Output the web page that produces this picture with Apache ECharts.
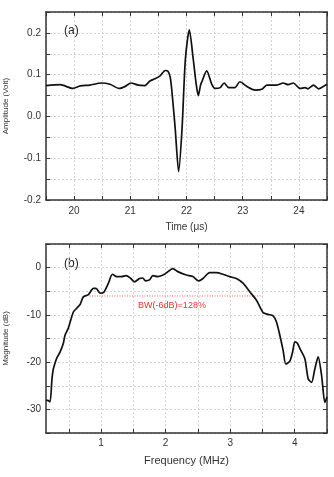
<!DOCTYPE html>
<html>
<head>
<meta charset="utf-8">
<script src="https://cdn.jsdelivr.net/npm/echarts@6/dist/echarts.min.js"></script>
<style>html,body{margin:0;padding:0;background:#fff;}#c{width:334px;height:477px;}</style>
</head>
<body>
<div id="c"></div>
<script>
var timeUs = [19.50,19.75,19.98,20.11,20.28,20.48,20.64,20.80,20.91,21.01,21.14,21.26,21.35,21.44,21.53,21.62,21.67,21.71,21.74,21.80,21.86,21.92,21.98,22.05,22.12,22.17,22.21,22.25,22.27,22.36,22.45,22.51,22.60,22.67,22.75,22.86,22.95,23.07,23.22,23.34,23.43,23.61,23.72,23.81,23.90,24.02,24.11,24.16,24.26,24.35,24.44,24.50];
var amplitude = [0.074,0.076,0.067,0.073,0.075,0.080,0.077,0.067,0.072,0.080,0.075,0.074,0.085,0.090,0.097,0.110,0.108,0.094,0.061,-0.031,-0.132,-0.031,0.137,0.207,0.137,0.080,0.050,0.075,0.082,0.109,0.077,0.067,0.069,0.080,0.069,0.069,0.083,0.072,0.063,0.065,0.075,0.075,0.080,0.076,0.080,0.067,0.069,0.066,0.075,0.066,0.072,0.077];
var freqMHz = [0.146,0.171,0.208,0.239,0.259,0.275,0.311,0.363,0.415,0.441,0.492,0.570,0.621,0.674,0.725,0.803,0.880,0.922,0.984,1.036,1.113,1.175,1.242,1.315,1.388,1.460,1.517,1.595,1.646,1.688,1.750,1.801,1.879,1.983,2.112,2.189,2.320,2.422,2.511,2.578,2.682,2.786,2.888,2.992,3.096,3.199,3.303,3.407,3.509,3.587,3.665,3.717,3.769,3.820,3.862,3.924,3.966,4.002,4.041,4.079,4.157,4.208,4.261,4.312,4.363,4.416,4.467,4.500];
var magnitudeDb = [-28.1,-28.1,-28.4,-23.5,-21.5,-20.7,-19.2,-17.9,-16.0,-14.3,-12.8,-9.4,-8.6,-7.8,-6.2,-5.7,-4.4,-4.4,-5.4,-5.3,-3.3,-1.4,-1.9,-1.9,-1.7,-2.3,-3.0,-2.3,-2.2,-2.8,-2.6,-1.7,-1.9,-1.4,-0.2,-0.85,-1.55,-1.9,-2.8,-2.3,-1.06,-1.06,-1.4,-1.9,-2.3,-3.3,-5.1,-6.9,-9.5,-9.9,-10.2,-11.5,-14.3,-17.5,-20.4,-19.8,-17.9,-15.7,-16.0,-17.1,-19.3,-23.5,-24.3,-21.4,-18.9,-22.8,-28.5,-27.4];
var bwLineFreq = [0.82, 3.5];
var bwLevelDb = -6;
var bwText = 'BW(-6dB)=128%';
var freqMinorTicks = [0.5,1,1.5,2,2.5,3,3.5,4,4.5];
var freqLabels = [1,2,3,4];
var titleA = 'Amplitude (Volt)', titleAx = 'Time (\u03bcs)';
var titleB = 'Magnitude (dB)', titleBx = 'Frequency (MHz)';

var FONT = 'Liberation Sans, Arial, sans-serif';
var frame = {show:true, onZero:false, lineStyle:{color:'#333', width:1.5}};
var tickIn = {show:true, inside:true, length:4, lineStyle:{color:'#333', width:1}};
var grid = {show:true, lineStyle:{color:'#c8c8c8', type:[2,2], width:0.8}};
var lab = {color:'#333', fontSize:10, fontFamily:FONT};

function zip(a,b){ return a.map(function(v,i){ return [v,b[i]]; }); }

var chart = echarts.init(document.getElementById('c'), null, {renderer:'canvas'});
chart.setOption({
  animation:false,
  backgroundColor:'#fff',
  grid:[
    {left:46, top:12, width:281, height:188, outerBoundsMode:'none', containLabel:false},
    {left:46, top:244, width:281, height:189, outerBoundsMode:'none', containLabel:false}
  ],
  xAxis:[
    {type:'value', gridIndex:0, min:19.5, max:24.5, interval:0.5, axisLine:frame, axisTick:tickIn, splitLine:grid,
     axisLabel:Object.assign({margin:6, formatter:function(v){ return Math.abs(v-Math.round(v))<1e-6 ? String(Math.round(v)) : ''; }}, lab),
     name:titleAx, nameLocation:'middle', nameGap:22, nameTextStyle:{color:'#333', fontSize:10, fontFamily:FONT}},
    {type:'value', gridIndex:1, min:0.146, max:4.5, axisLine:frame,
     axisTick:Object.assign({customValues:freqMinorTicks}, tickIn), splitLine:grid,
     axisLabel:Object.assign({margin:5, customValues:freqLabels}, lab),
     name:titleBx, nameLocation:'middle', nameGap:22, nameTextStyle:{color:'#333', fontSize:11, fontFamily:FONT}},
    {type:'value', gridIndex:0, position:'top', min:19.5, max:24.5, interval:0.5, axisLine:frame, axisTick:tickIn, axisLabel:{show:false}, splitLine:{show:false}},
    {type:'value', gridIndex:1, position:'top', min:0.146, max:4.5, axisLine:frame,
     axisTick:Object.assign({customValues:freqMinorTicks}, tickIn), axisLabel:{show:false}, splitLine:{show:false}}
  ],
  yAxis:[
    {type:'value', gridIndex:0, min:-0.2, max:0.25, interval:0.05, axisLine:frame, axisTick:tickIn, splitLine:grid,
     axisLabel:Object.assign({margin:5, formatter:function(v){ var k=v*10; return Math.abs(k-Math.round(k))<1e-6 ? (Math.round(k)/10).toFixed(1) : ''; }}, lab),
     name:titleA, nameLocation:'middle', nameGap:36, nameRotate:90, nameTextStyle:{color:'#333', fontSize:8, fontFamily:FONT}},
    {type:'value', gridIndex:1, min:-35, max:5, interval:5, axisLine:frame, axisTick:tickIn, splitLine:grid,
     axisLabel:Object.assign({margin:5, formatter:function(v){ return v%10===0 ? String(v) : ''; }}, lab),
     name:titleB, nameLocation:'middle', nameGap:36, nameRotate:90, nameTextStyle:{color:'#333', fontSize:8, fontFamily:FONT}},
    {type:'value', gridIndex:0, position:'right', min:-0.2, max:0.25, interval:0.05, axisLine:frame, axisTick:tickIn, axisLabel:{show:false}, splitLine:{show:false}},
    {type:'value', gridIndex:1, position:'right', min:-35, max:5, interval:5, axisLine:frame, axisTick:tickIn, axisLabel:{show:false}, splitLine:{show:false}}
  ],
  series:[
    {type:'line', xAxisIndex:0, yAxisIndex:0, data:zip(timeUs, amplitude), showSymbol:false, smooth:0.25,
     lineStyle:{color:'#111', width:1.7}},
    {type:'line', xAxisIndex:1, yAxisIndex:1, data:zip(bwLineFreq, [bwLevelDb,bwLevelDb]), showSymbol:false,
     lineStyle:{color:'#ff6060', width:1, type:[1,1.5]}},
    {type:'line', xAxisIndex:1, yAxisIndex:1, data:zip(freqMHz, magnitudeDb), showSymbol:false, smooth:0.25,
     lineStyle:{color:'#111', width:1.7}}
  ],
  graphic:[
    {type:'text', left:64, top:25, style:{text:'(a)', fontSize:12, fontFamily:FONT, fill:'#222'}},
    {type:'text', left:64, top:258, style:{text:'(b)', fontSize:12, fontFamily:FONT, fill:'#222'}},
    {type:'text', x:172, y:306, style:{text:bwText, fontSize:9, fontFamily:FONT, fill:'#f03030', align:'center', verticalAlign:'middle'}}
  ]
});
</script>
</body>
</html>
